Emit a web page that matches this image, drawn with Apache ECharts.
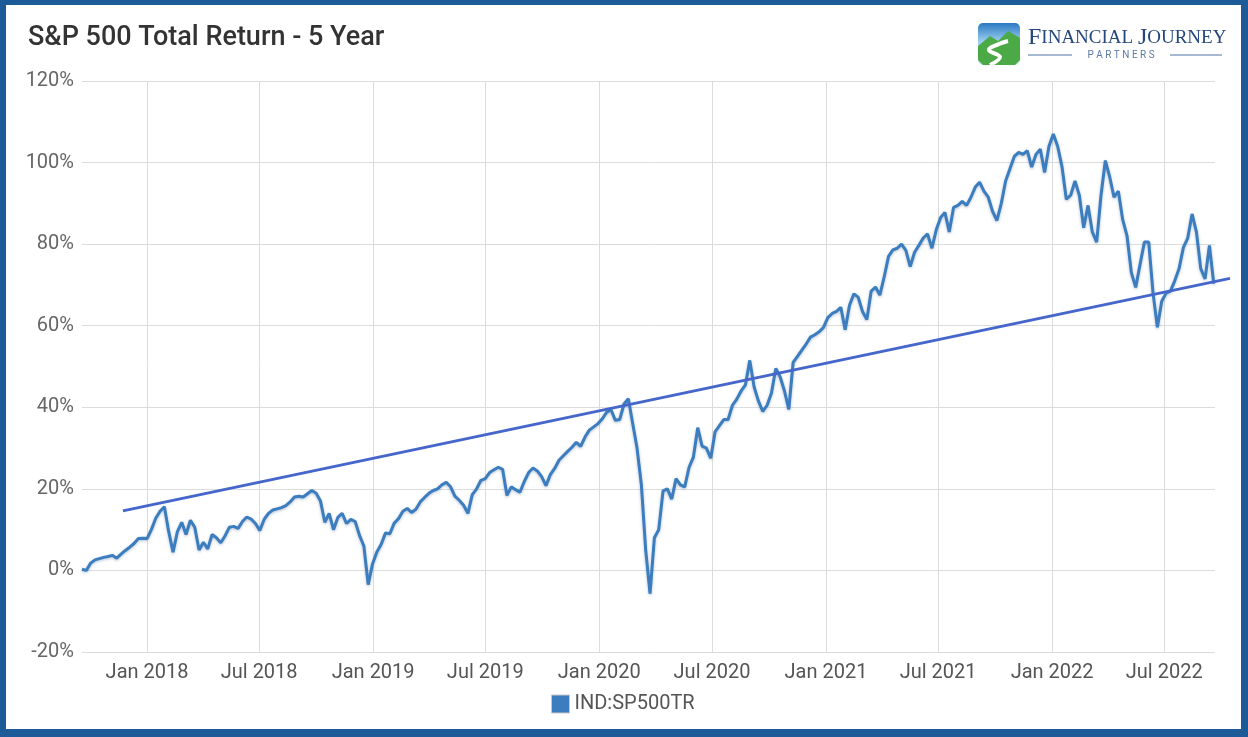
<!DOCTYPE html>
<html>
<head>
<meta charset="utf-8">
<script src="https://cdn.jsdelivr.net/npm/echarts@6/dist/echarts.min.js"></script>
<style>
  html, body { margin: 0; padding: 0; background: #fff; }
  #chart { width: 1248px; height: 737px; }
</style>
</head>
<body>
<div id="chart"></div>
<script>
// weekly closes, % total return since start
const startDate = "2017-09-18";
const weeklyReturn = [
  0.3, 0.0, 1.8, 2.6, 2.9, 3.2, 3.4, 3.7, 3.0, 4.0,
  4.9, 5.7, 6.6, 7.8, 7.9, 7.8, 10.0, 12.8, 14.5, 15.6,
  9.5, 4.5, 9.5, 11.8, 8.8, 12.3, 10.6, 5.0, 6.9, 5.3,
  8.8, 8.0, 6.8, 8.5, 10.6, 10.8, 10.3, 12.0, 13.1, 12.6,
  11.5, 9.8, 12.5, 14.0, 14.8, 15.1, 15.4, 15.9, 16.8, 18.0,
  18.2, 18.0, 18.8, 19.6, 18.9, 17.0, 11.8, 14.0, 10.0, 13.0,
  14.0, 11.5, 12.5, 12.0, 8.6, 6.0, -3.5, 1.6, 4.5, 6.4,
  9.2, 9.0, 11.6, 12.7, 14.5, 15.2, 14.2, 15.0, 16.8, 17.9,
  18.9, 19.6, 20.0, 21.0, 21.6, 20.5, 18.2, 17.2, 16.0, 14.0,
  18.6, 20.0, 22.1, 22.5, 24.0, 24.7, 25.3, 24.8, 18.4, 20.5,
  19.8, 19.2, 21.8, 24.0, 25.1, 24.4, 23.0, 20.8, 23.5, 25.0,
  27.0, 28.1, 29.2, 30.2, 31.4, 30.4, 32.7, 34.4, 35.2, 36.0,
  37.2, 38.8, 39.4, 36.8, 37.0, 40.8, 42.1, 36.0, 30.0, 21.0,
  5.0, -5.7, 8.0, 10.0, 19.5, 20.0, 17.5, 22.5, 21.0, 20.5,
  25.3, 27.8, 35.0, 30.5, 30.0, 27.5, 34.0, 35.5, 37.0, 37.0,
  40.5, 42.0, 44.0, 45.5, 51.5, 45.0, 41.5, 39.0, 40.5, 43.5,
  49.5, 47.5, 44.0, 39.5, 51.0, 52.5, 54.0, 55.5, 57.2, 57.8,
  58.5, 59.6, 62.0, 63.0, 63.5, 64.5, 59.0, 65.0, 67.8, 67.0,
  63.5, 61.5, 68.5, 69.5, 67.5, 72.0, 77.0, 78.6, 79.0, 80.0,
  78.5, 74.5, 78.0, 79.7, 81.5, 82.5, 79.0, 83.5, 86.5, 87.8,
  83.0, 89.0, 89.5, 90.5, 89.5, 91.5, 94.0, 95.2, 93.0, 91.5,
  88.0, 85.8, 90.0, 95.5, 98.5, 101.5, 102.5, 102.0, 102.9, 98.9,
  102.0, 103.3, 97.6, 104.0, 107.0, 104.0, 99.0, 91.0, 92.0, 95.5,
  92.0, 84.0, 89.5, 83.0, 80.5, 92.0, 100.5, 96.5, 91.5, 93.0,
  86.0, 82.0, 73.0, 69.4, 75.0, 80.5, 80.5, 68.0, 59.6, 66.0,
  68.0, 68.5, 71.0, 74.0, 79.2, 81.5, 87.4, 83.0, 74.0, 71.5,
  79.7, 70.3
];

// straight trend line drawn over the chart (runs a little past the plot)
const trendDates = ["2017-11-23", "2022-10-15"];
const trendValues = [14.6, 71.6];

const axisStart = "2017-09-18";
const axisEnd = "2022-09-21";
const trendAxisEnd = "2022-10-15";
const xTickDates = [
  "2018-01-01", "2018-07-01", "2019-01-01", "2019-07-01", "2020-01-01",
  "2020-07-01", "2021-01-01", "2021-07-01", "2022-01-01", "2022-07-01"
];
const xTickLabels = [
  "Jan 2018", "Jul 2018", "Jan 2019", "Jul 2019", "Jan 2020",
  "Jul 2020", "Jan 2021", "Jul 2021", "Jan 2022", "Jul 2022"
];

const ts = (s) => +echarts.time.parse(s);
const DAY = 86400000;
const t0 = ts(startDate);
const spData = weeklyReturn.map((v, i) => [t0 + i * 7 * DAY, v]);
const trendData = trendDates.map((d, i) => [ts(d), trendValues[i]]);
const tickTs = xTickDates.map(ts);

const font = "Roboto, 'Noto Sans', sans-serif";
const chart = echarts.init(document.getElementById("chart"));

chart.setOption({
  animation: false,
  title: {
    text: "S&P 500 Total Return - 5 Year",
    left: 23,
    top: 20,
    textStyle: { fontFamily: font, fontSize: 27, fontWeight: 500, color: "#333" }
  },
  legend: {
    data: ["IND:SP500TR"],
    top: 689,
    left: 546,
    icon: "rect",
    itemWidth: 18,
    itemHeight: 18,
    itemGap: 10,
    itemStyle: { borderColor: "#c8c8c8", borderWidth: 1 },
    textStyle: { fontFamily: font, fontSize: 20, color: "#555" }
  },
  grid: [
    { left: 82, right: 33, top: 81, bottom: 85 },
    { left: 82, right: 18, top: 81, bottom: 85 }
  ],
  xAxis: [
    {
      type: "value",
      min: ts(axisStart),
      max: ts(axisEnd),
      axisLine: { show: false },
      axisTick: { show: false, customValues: tickTs },
      axisLabel: {
        customValues: tickTs,
        margin: 11,
        fontFamily: font,
        fontSize: 20,
        color: "#555",
        formatter: (v) => xTickLabels[tickTs.indexOf(v)] || ""
      },
      splitLine: { show: true, lineStyle: { color: "#dcdcdc", width: 1 } }
    },
    {
      type: "value",
      gridIndex: 1,
      min: ts(axisStart),
      max: ts(trendAxisEnd),
      show: false
    }
  ],
  yAxis: [
    {
      type: "value",
      min: -20,
      max: 120,
      interval: 20,
      axisLine: { show: false },
      axisTick: { show: false },
      axisLabel: {
        formatter: "{value}%",
        margin: 8,
        fontFamily: font,
        fontSize: 20,
        color: "#666"
      },
      splitLine: { lineStyle: { color: "#dcdcdc", width: 1 } }
    },
    {
      type: "value",
      gridIndex: 1,
      min: -20,
      max: 120,
      show: false
    }
  ],
  series: [
    {
      name: "IND:SP500TR",
      type: "line",
      data: spData,
      showSymbol: false,
      color: "#3b7dbf",
      lineStyle: {
        width: 3,
        color: "#3b7dbf",
        shadowColor: "rgba(40,80,130,0.35)",
        shadowBlur: 3,
        shadowOffsetY: 1
      },
      z: 2
    },
    {
      name: "trend",
      type: "line",
      xAxisIndex: 1,
      yAxisIndex: 1,
      data: trendData,
      showSymbol: false,
      silent: true,
      lineStyle: { width: 3, color: "#4566ca" },
      z: 3
    }
  ],
  graphic: [
    // frame
    { type: "rect", shape: { x: 0, y: 0, width: 1248, height: 5 }, style: { fill: "#1d5b98" } },
    { type: "rect", shape: { x: 0, y: 0, width: 6, height: 737 }, style: { fill: "#1d5b98" } },
    { type: "rect", shape: { x: 1241, y: 0, width: 7, height: 737 }, style: { fill: "#1d5b98" } },
    { type: "rect", shape: { x: 0, y: 729, width: 1248, height: 8 }, style: { fill: "#1d5b98" } },
    // logo icon
    {
      type: "rect",
      shape: { x: 978, y: 23, width: 42, height: 42, r: 5 },
      style: {
        fill: new echarts.graphic.LinearGradient(0, 0, 0, 1, [
          { offset: 0, color: "#2a78c2" },
          { offset: 0.45, color: "#9fd0ef" },
          { offset: 1, color: "#cfe8f6" }
        ])
      }
    },
    {
      type: "polygon",
      shape: { points: [[978, 46], [990, 36], [998, 41], [1008, 31], [1020, 38], [1020, 60], [1015, 65], [983, 65], [978, 60]] },
      style: { fill: "#4caa46" }
    },
    {
      type: "polyline",
      shape: { points: [[990, 65], [1000, 57], [989, 50], [999, 44], [1008, 41]], smooth: 0.4 },
      style: { stroke: "#fff", lineWidth: 4, fill: null }
    },
    // logo text
    {
      type: "text",
      x: 1028,
      y: 26,
      style: {
        text: "{a|F}{b|INANCIAL }{a|J}{b|OURNEY}",
        rich: {
          a: { fontFamily: "'Liberation Serif', serif", fontSize: 24, fill: "#25477c" },
          b: { fontFamily: "'Liberation Serif', serif", fontSize: 19, fill: "#25477c" }
        }
      }
    },
    { type: "line", shape: { x1: 1028, y1: 55, x2: 1072, y2: 55 }, style: { stroke: "#8aa0c4", lineWidth: 1.5 } },
    { type: "line", shape: { x1: 1170, y1: 55, x2: 1222, y2: 55 }, style: { stroke: "#8aa0c4", lineWidth: 1.5 } },
    {
      type: "text",
      x: 1121,
      y: 50,
      style: {
        text: "P A R T N E R S",
        fontFamily: font,
        fontSize: 10,
        fill: "#5c7aa6",
        align: "center"
      }
    }
  ]
});
</script>
</body>
</html>
